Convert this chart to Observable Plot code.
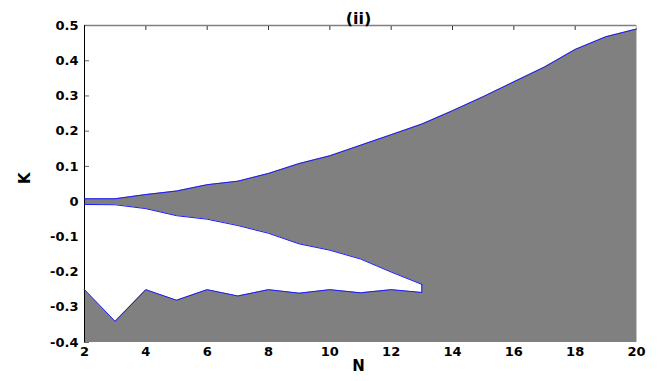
<!DOCTYPE html>
<html><head><meta charset="utf-8">
<script src="https://cdn.jsdelivr.net/npm/d3@7"></script>
<script src="https://cdn.jsdelivr.net/npm/@observablehq/plot@0.6"></script>
<style>body{margin:0;background:#fff}</style>
</head><body><div id="chart"></div>
<script>
// Data
const N      = [2,3,4,5,6,7,8,9,10,11,12,13,14,15,16,17,18,19,20];
const upper  = [0.008,0.008,0.02,0.03,0.048,0.058,0.08,0.108,0.13,0.16,0.19,0.22,0.258,0.298,0.34,0.382,0.432,0.468,0.49];
const holeN  = [2,3,4,5,6,7,8,9,10,11,12,13];
const lower  = [-0.008,-0.009,-0.02,-0.04,-0.05,-0.068,-0.09,-0.12,-0.138,-0.163,-0.2,-0.235];
const jagged = [-0.25,-0.34,-0.25,-0.28,-0.25,-0.268,-0.25,-0.26,-0.25,-0.259,-0.25,-0.258];
const xTicks = [2,4,6,8,10,12,14,16,18,20];
const yTicks = [-0.4,-0.3,-0.2,-0.1,0,0.1,0.2,0.3,0.4,0.5];
const xDomain = [2,20];
const yDomain = [-0.4,0.5];
const title = "(ii)", xLabel = "N", yLabel = "K";

const all = N.map((n,i) => ({n, up: upper[i]}));
const hole = holeN.map((n,i) => ({n, low: lower[i], jag: jagged[i]}));
const fmt = d => Math.abs(d) < 1e-9 ? "0" : d.toFixed(1);

const chart = Plot.plot({
  width: 671, height: 381,
  marginLeft: 84, marginRight: 35, marginTop: 25, marginBottom: 39,
  style: {fontFamily: "DejaVu Sans", fontSize: "12px", fontWeight: "bold", color: "black", background: "white", overflow: "visible"},
  x: {domain: xDomain},
  y: {domain: yDomain},
  marks: [
    // inward ticks (drawn first so the fill hides them)
    Plot.axisY({ticks: yTicks, anchor: "left", tickSize: 5, dx: 5, tickFormat: () => "", label: null, stroke: "#666"}),
    Plot.axisX({ticks: xTicks, anchor: "top", tickSize: 4, dy: 4, tickFormat: () => "", label: null, stroke: "#333"}),
    // gray region
    Plot.areaY(all, {x: "n", y1: () => yDomain[0], y2: "up", fill: "#808080", curve: "linear"}),
    // white hole
    Plot.areaY(hole, {x: "n", y1: "jag", y2: "low", fill: "white", curve: "linear"}),
    // frame lines
    Plot.ruleY([yDomain[1]], {stroke: "#808080", strokeWidth: 1.3}),
    Plot.ruleX([xDomain[1]], {stroke: "#c4c4c4", strokeWidth: 1}),
    Plot.ruleX([xDomain[0]], {stroke: "black", strokeWidth: 1}),
    // blue boundaries
    Plot.line(all, {x: "n", y: "up", stroke: "#1a1aff", strokeWidth: 1}),
    Plot.line(hole, {x: "n", y: "low", stroke: "#1a1aff", strokeWidth: 1}),
    Plot.line(hole, {x: "n", y: "jag", stroke: "#1a1aff", strokeWidth: 1}),
    Plot.ruleX(hole.slice(-1), {x: "n", y1: "jag", y2: "low", stroke: "#1a1aff", strokeWidth: 1}),
    // tick labels
    Plot.axisY({ticks: yTicks, anchor: "left", tickSize: 0, tickPadding: 6, tickFormat: fmt, label: null, fontSize: 13, fontWeight: "bold"}),
    Plot.axisX({ticks: xTicks, anchor: "bottom", tickSize: 0, tickPadding: 4, tickFormat: d => String(d), label: null, fontSize: 13, fontWeight: "bold"}),
    // titles
    Plot.text([title], {frameAnchor: "top", dx: -2, dy: -13, fontSize: 16, fontWeight: "bold", text: d => d}),
    Plot.text([xLabel], {frameAnchor: "bottom", dx: -2, dy: 28.5, fontSize: 15, fontWeight: "bold", text: d => d}),
    Plot.text([yLabel], {frameAnchor: "left", dx: -59, rotate: -90, fontSize: 15, fontWeight: "bold", text: d => d})
  ]
});
document.getElementById("chart").appendChild(chart);
</script>
</body></html>
